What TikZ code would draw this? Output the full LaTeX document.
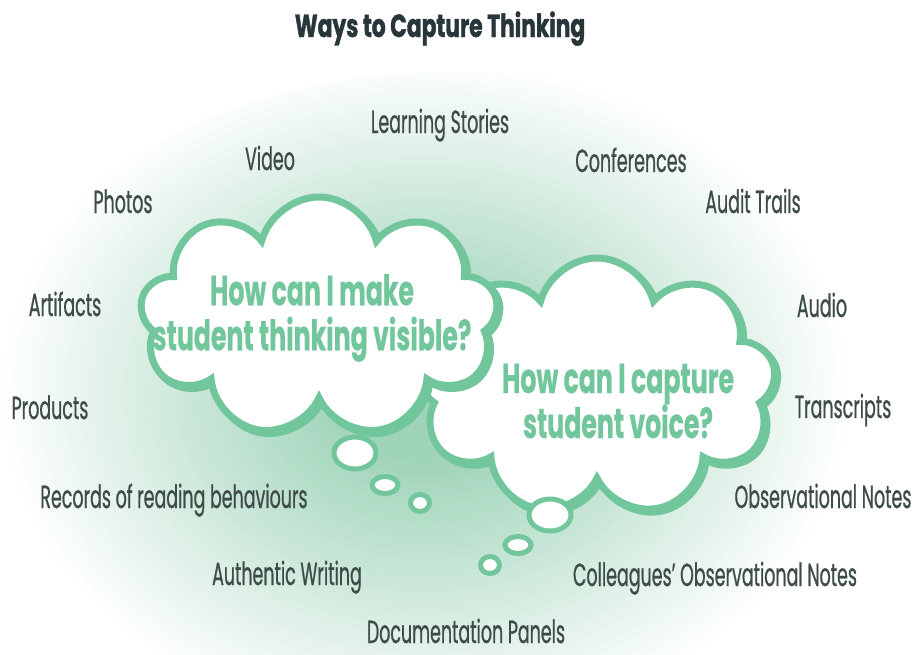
\documentclass[tikz,border=0pt]{standalone}
\usepackage{fontspec}
\setmainfont{Poppins}[FakeStretch=0.545,FakeBold=0.6]
\newfontfamily\titlefont{Poppins}[FakeStretch=0.68,FakeBold=1.2]
\newfontfamily\askfont{Poppins}[FakeStretch=0.6,FakeBold=0.4]
\usetikzlibrary{shapes.symbols}

\definecolor{cloudgreen}{RGB}{114,198,156}
\definecolor{glowgreen}{RGB}{160,212,186}
\definecolor{labelgrey}{RGB}{62,76,72}
\definecolor{titlegrey}{RGB}{40,54,58}

\tikzset{
  way/.style={anchor=base, text=labelgrey, font=\fontsize{32}{36}\selectfont},
  question/.style={align=center, text=cloudgreen, font=\askfont\bfseries\fontsize{42}{45}\selectfont},
  thought/.style={cloud, cloud puffs=9, cloud ignores aspect, draw=cloudgreen, line width=7pt, fill=white},
  thoughtshadow/.style={thought, fill=cloudgreen},
  bubble/.style={draw=cloudgreen, line width=5pt, fill=white}
}

\begin{document}
\begin{tikzpicture}[x=1pt,y=-1pt]

\useasboundingbox (0,0) rectangle (913,654);
\fill [white] (0,0) rectangle (913,654);

\begin{scope}
\clip (455,400) ellipse [x radius=480, y radius=328];
\foreach \i [evaluate=\i as \pct using 2.5*\i, evaluate=\i as \r using 1-0.02*\i] in {0,...,40}
  \fill [glowgreen!\pct!white] (425,395) ellipse [x radius=430*\r, y radius=340*\r];
\end{scope}

\node [anchor=base, text=titlegrey, font=\titlefont\bfseries\fontsize{32}{36}\selectfont] (title) at (440,37) {Ways to Capture Thinking};

\node [thoughtshadow, minimum width=358pt, minimum height=258pt] (voiceshadow) at (600,390) {};
\node [thought, minimum width=358pt, minimum height=258pt] (voicecloud) at (597,387) {};
\draw [bubble] (550,515) ellipse [x radius=21, y radius=16];
\draw [bubble] (518,545) ellipse [x radius=13, y radius=8.5];
\draw [bubble] (490,565) ellipse [x radius=9.5, y radius=8.5];

\node [thoughtshadow, minimum width=358pt, minimum height=240pt] (visibleshadow) at (322,320) {};
\node [thought, minimum width=358pt, minimum height=240pt] (visiblecloud) at (319,317) {};
\draw [bubble] (355,453) ellipse [x radius=21, y radius=16];
\draw [bubble] (385,485) ellipse [x radius=13, y radius=8.5];
\draw [bubble] (420,503) ellipse [x radius=9.5, y radius=8.5];

\node [question] (visibleq) at (312,318) {How can I make\\student thinking visible?};
\node [question] (voiceq) at (618,401) {How can I capture\\student voice?};

\node [way] (stories) at (440,133) {Learning Stories};
\node [way] (video) at (270,170) {Video};
\node [way] (conferences) at (631,172) {Conferences};
\node [way] (photos) at (123,213) {Photos};
\node [way] (audit) at (753,213) {Audit Trails};
\node [way] (artifacts) at (65,316) {Artifacts};
\node [way] (audio) at (822,317) {Audio};
\node [way] (products) at (50,419) {Products};
\node [way] (transcripts) at (843,418) {Transcripts};
\node [way] (records) at (174,508) {Records of reading behaviours};
\node [way] (observational) at (823,508) {Observational Notes};
\node [way] (writing) at (287,585) {Authentic Writing};
\node [way] (colleagues) at (715,586) {Colleagues’ Observational Notes};
\node [way, inner sep=0pt] (panels) at (466,643) {Documentation Panels};

\end{tikzpicture}
\end{document}
